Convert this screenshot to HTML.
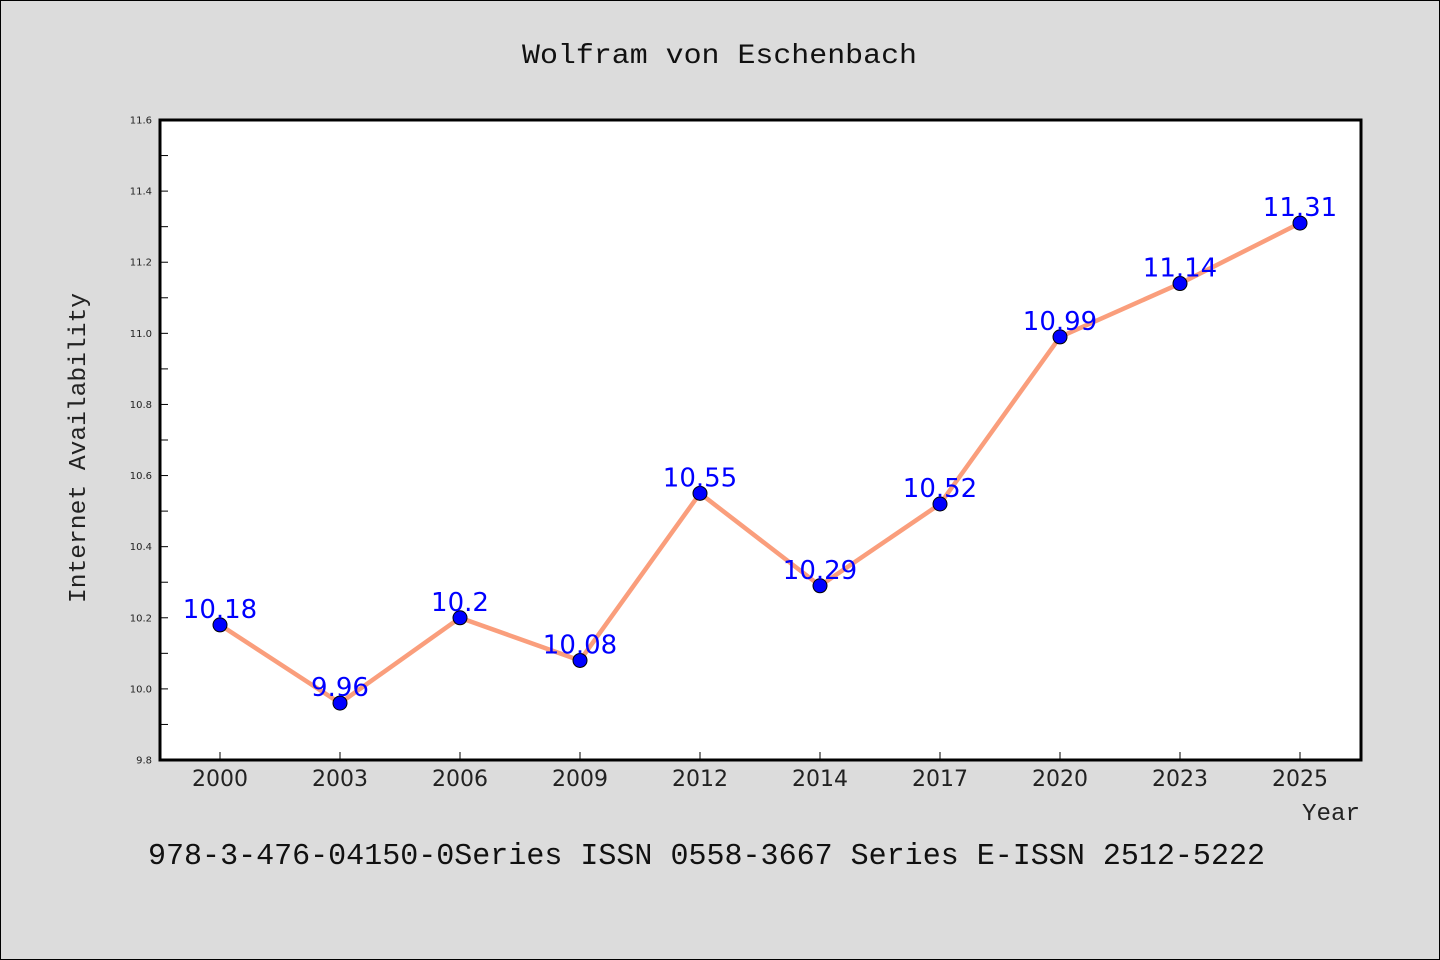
<!DOCTYPE html>
<html><head><meta charset="utf-8"><style>
body{margin:0;background:#dcdcdc;}
svg{display:block;}
</style></head><body>
<svg id="chart" width="1440" height="960" xmlns="http://www.w3.org/2000/svg">
<rect x="0.5" y="0.5" width="1439" height="959" fill="#dcdcdc" stroke="#000" stroke-width="1"/>
<text x="522" y="63" textLength="395" lengthAdjust="spacingAndGlyphs" font-family="'WenQuanYi Zen Hei', 'Liberation Mono', monospace" font-size="28" fill="#111">Wolfram von Eschenbach</text>
<rect x="160" y="120" width="1201" height="640" fill="#fff" stroke="#000" stroke-width="3"/>
<g id="axes"></g>
<g id="series"></g>
<text transform="translate(85,603) rotate(-90)" textLength="310" lengthAdjust="spacingAndGlyphs" font-family="'WenQuanYi Zen Hei', 'Liberation Mono', monospace" font-size="24" fill="#222">Internet Availability</text>
<text x="1302" y="820" textLength="58" lengthAdjust="spacingAndGlyphs" font-family="'WenQuanYi Zen Hei', 'Liberation Mono', monospace" font-size="24" fill="#222">Year</text>
<text x="148" y="864" textLength="1117" lengthAdjust="spacingAndGlyphs" font-family="'WenQuanYi Zen Hei', 'Liberation Mono', monospace" font-size="31" fill="#111">978-3-476-04150-0Series ISSN 0558-3667 Series E-ISSN 2512-5222</text>
</svg>
<script>
const categories=["2000","2003","2006","2009","2012","2014","2017","2020","2023","2025"];
const values=[10.18,9.96,10.2,10.08,10.55,10.29,10.52,10.99,11.14,11.31];
const valueLabels=["10.18","9.96","10.2","10.08","10.55","10.29","10.52","10.99","11.14","11.31"];
const yTicks=["9.8","10.0","10.2","10.4","10.6","10.8","11.0","11.2","11.4","11.6"];
const NS="http://www.w3.org/2000/svg";
const yMin=9.8,yMax=11.6,plotTop=120,plotBottom=760,x0=220,dx=120;
const yScale=v=>plotBottom-(v-yMin)/(yMax-yMin)*(plotBottom-plotTop);
const xScale=i=>x0+i*dx;
function mk(tag,attrs,parent){const e=document.createElementNS(NS,tag);for(const k in attrs)e.setAttribute(k,attrs[k]);parent.appendChild(e);return e;}
const axes=document.getElementById('axes'),series=document.getElementById('series');
yTicks.forEach(t=>{const v=parseFloat(t),yy=yScale(v);
 const l=mk('line',{x1:160,x2:168,y1:yy,y2:yy,stroke:'#000','stroke-width':1},axes);
 
 
 const tx=mk('text',{x:152,y:yy+3.5,'text-anchor':'end','font-family':"'DejaVu Sans',sans-serif",'font-size':10,fill:'#222'},axes);
 tx.textContent=t;
 
 
 if(v<yMax-0.01){const m=yScale(v+0.1);const ml=mk('line',{x1:160,x2:168,y1:m,y2:m,stroke:'#000','stroke-width':1},axes);
 
 }
});
categories.forEach((c,i)=>{const xx=xScale(i);
 const l=mk('line',{x1:xx,x2:xx,y1:752,y2:760,stroke:'#000','stroke-width':1},axes);
 
 
 const tx=mk('text',{x:xx,y:786,'text-anchor':'middle','font-family':"'DejaVu Sans',sans-serif",'font-size':22,fill:'#222'},axes);
 tx.textContent=c;
 
 
});
const pl=mk('polyline',{points:values.map((v,i)=>xScale(i)+','+yScale(v)).join(' '),fill:'none',stroke:'#fa9e7c','stroke-width':4.5,'stroke-linejoin':'round'},series);


values.forEach((v,i)=>{
 const c=mk('circle',{cx:xScale(i),cy:yScale(v),r:7,fill:'#0000ff',stroke:'#000','stroke-width':1},series);
 
 
 const t=mk('text',{x:xScale(i),y:yScale(v)-7,'text-anchor':'middle','font-family':"'DejaVu Sans',sans-serif",'font-size':26,fill:'#0000ff'},series);
 t.textContent=valueLabels[i];
 
 
});
</script>
</body></html>
